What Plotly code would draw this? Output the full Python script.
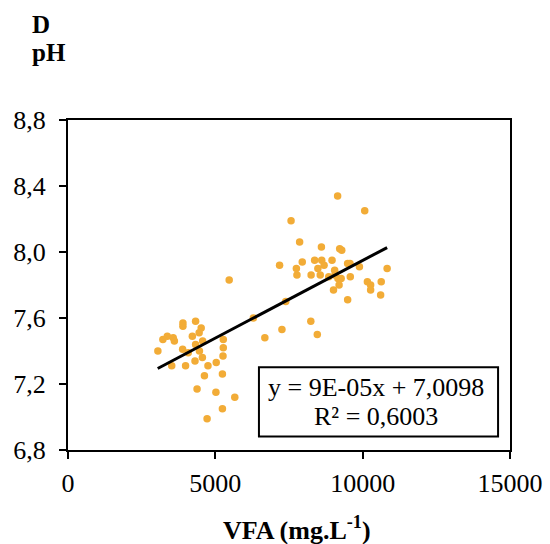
import plotly.graph_objects as go

# VFA (mg/L) and pH observations
vfa = [5470, 6290, 3900, 3900, 4330, 4520, 4450, 3370, 3220, 3570, 3610, 4220,
       4570, 4330, 5270, 3050, 3890, 4080, 4460, 5270, 5260, 4310, 4560, 3520,
       3990, 4750, 5030, 4630, 5240, 4380, 5020, 5660, 5240, 4720,
       9150, 10070, 7570, 7860, 8600, 9220, 9290, 7180, 7950, 7750, 7770, 8370,
       8610, 8690, 8480, 8250, 8560, 8960, 9050, 8850, 9490, 9570, 9890, 10830,
       9060, 9160, 9270, 9580, 9200, 9010, 10160, 10270, 10270, 10630, 10610,
       9490, 7390, 8240, 7260, 8460, 6680]
ph = [7.83, 7.60, 7.57, 7.55, 7.58, 7.54, 7.51, 7.49, 7.47, 7.48, 7.46, 7.49,
      7.46, 7.44, 7.47, 7.40, 7.41, 7.39, 7.40, 7.42, 7.37, 7.34, 7.36, 7.31,
      7.31, 7.31, 7.33, 7.25, 7.26, 7.17, 7.15, 7.12, 7.05, 6.99,
      8.34, 8.25, 8.19, 8.06, 8.03, 8.02, 8.01, 7.92, 7.94, 7.90, 7.86, 7.95,
      7.95, 7.92, 7.90, 7.86, 7.86, 7.95, 7.89, 7.85, 7.93, 7.93, 7.91, 7.90,
      7.86, 7.84, 7.84, 7.85, 7.80, 7.77, 7.82, 7.80, 7.77, 7.82, 7.74,
      7.71, 7.70, 7.58, 7.53, 7.50, 7.48]

# linear trend line endpoints
trend_x = [3044, 10830]
trend_y = [7.294, 8.027]

x_tickvals = [0, 5000, 10000, 15000]
x_ticktext = ["0", "5000", "10000", "15000"]
y_tickvals = [6.8, 7.2, 7.6, 8.0, 8.4, 8.8]
y_ticktext = ["6,8", "7,2", "7,6", "8,0", "8,4", "8,8"]

FONT = "Liberation Serif"

fig = go.Figure()
fig.add_trace(go.Scatter(
    x=vfa, y=ph, mode="markers",
    marker=dict(color="#F2AC37", size=7.5, line=dict(width=0)),
    showlegend=False, hoverinfo="x+y"))
fig.add_trace(go.Scatter(
    x=trend_x, y=trend_y, mode="lines",
    line=dict(color="black", width=3),
    showlegend=False, hoverinfo="skip"))

axis_common = dict(
    showline=True, linecolor="black", linewidth=2, mirror=True,
    ticks="outside", ticklen=7, tickwidth=2, tickcolor="black",
    showgrid=False, zeroline=False, automargin=False,
    tickfont=dict(family=FONT, size=26, color="black"),
)

fig.update_layout(
    width=550, height=544,
    margin=dict(l=68, r=40, t=120, b=94),
    paper_bgcolor="white", plot_bgcolor="white",
    font=dict(family=FONT, color="black"),
    xaxis=dict(range=[0, 15000], tickvals=x_tickvals, ticktext=x_ticktext,
               ticklabelstandoff=2, **axis_common),
    yaxis=dict(range=[6.8, 8.8], tickvals=y_tickvals, ticktext=y_ticktext,
               ticklabelstandoff=8, **axis_common),
    shapes=[dict(type="rect", xref="paper", yref="paper",
                 x0=0.432, x1=0.973, y0=0.041, y1=0.251,
                 line=dict(color="black", width=2), fillcolor="white",
                 layer="above")],
    annotations=[
        dict(text="<b>VFA (mg.L<sup>-1</sup>)</b>", xref="paper", yref="paper",
             x=(297 - 68) / 442, y=(449.5 - 528) / 329, xanchor="center", yanchor="middle",
             showarrow=False, font=dict(family=FONT, size=26, color="black")),
        dict(text="<b>D</b>", xref="paper", yref="paper",
             x=(30 - 68) / 442, y=(449.5 - 25) / 329, xanchor="left", yanchor="middle",
             showarrow=False, font=dict(family=FONT, size=25, color="black")),
        dict(text="<b>pH</b>", xref="paper", yref="paper",
             x=(30 - 68) / 442, y=(449.5 - 53) / 329, xanchor="left", yanchor="middle",
             showarrow=False, font=dict(family=FONT, size=25, color="black")),
        dict(text="y = 9E-05x + 7,0098", xref="paper", yref="paper",
             x=(376 - 68) / 442, y=(449.5 - 387) / 329, xanchor="center", yanchor="middle",
             showarrow=False, font=dict(family=FONT, size=26, color="black")),
        dict(text="R² = 0,6003", xref="paper", yref="paper",
             x=(376 - 68) / 442, y=(449.5 - 416) / 329, xanchor="center", yanchor="middle",
             showarrow=False, font=dict(family=FONT, size=26, color="black")),
    ],
)

fig.write_html("out.html", config={"displayModeBar": False},
               post_script="document.body.style.margin='0';document.body.style.overflow='hidden';")
